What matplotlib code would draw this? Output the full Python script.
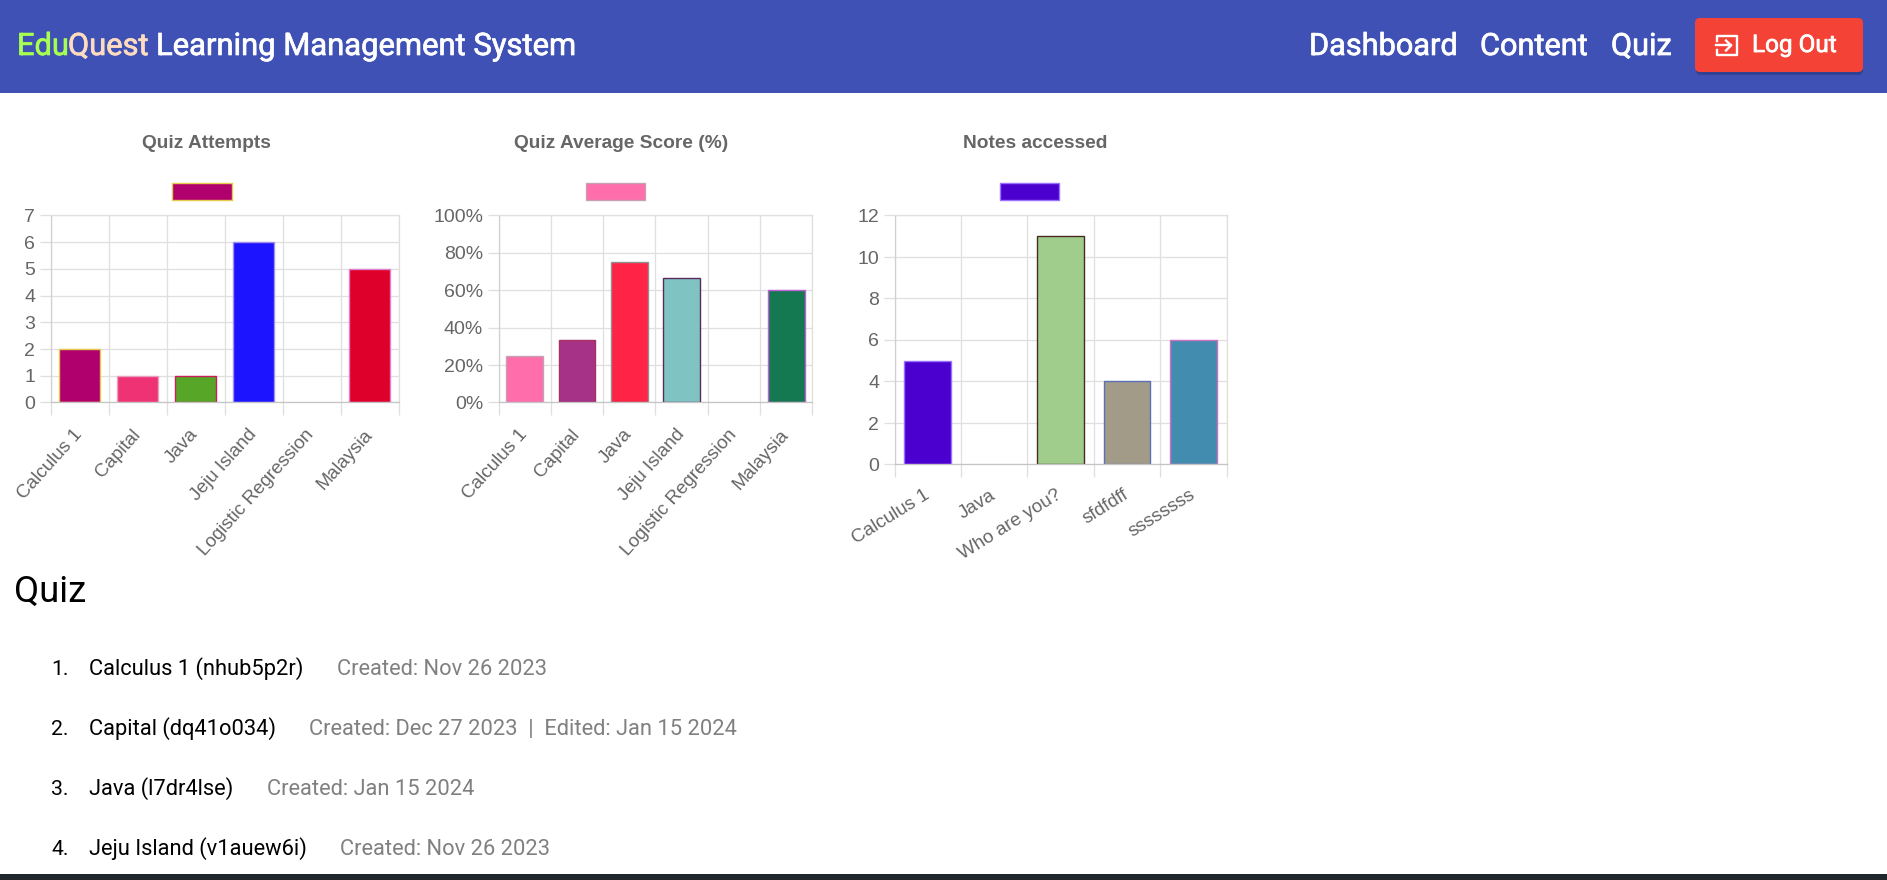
import matplotlib
matplotlib.use('Agg')
import matplotlib.pyplot as plt
import matplotlib.patheffects as pe
from matplotlib.patches import FancyBboxPatch, Patch, Rectangle

W, H = 1887, 880

# chart data
quiz_names = ['Calculus 1', 'Capital', 'Java', 'Jeju Island', 'Logistic Regression', 'Malaysia']
attempts = [2, 1, 1, 6, 0, 5]
attempts_fill = ['#b0006e', '#ee3274', '#58a628', '#1c14ff', 'none', '#de002a']
attempts_edge = ['#e6c84a', '#e8a0c0', '#c8205a', '#a090e8', 'none', '#e080d0']
attempts_ticks = [0, 1, 2, 3, 4, 5, 6, 7]
attempts_ticklabels = ['0', '1', '2', '3', '4', '5', '6', '7']

scores = [25, 33.33, 75, 66.67, 0, 60]
scores_fill = ['#ff6eaa', '#a53287', '#ff2346', '#80c3c3', 'none', '#147850']
scores_edge = ['#c8a0b4', '#a83060', '#909090', '#5a2a5a', 'none', '#c060d8']
scores_ticks = [0, 20, 40, 60, 80, 100]
scores_ticklabels = ['0%', '20%', '40%', '60%', '80%', '100%']

note_names = ['Calculus 1', 'Java', 'Who are you?', 'sfdfdff', 'ssssssss']
notes = [5, 0, 11, 4, 6]
notes_fill = ['#4b00cf', 'none', '#a0cd8c', '#a29b87', '#418caf']
notes_edge = ['#9a70ff', 'none', '#4a2a20', '#5a70b8', '#d070c0']
notes_ticks = [0, 2, 4, 6, 8, 10, 12]
notes_ticklabels = ['0', '2', '4', '6', '8', '10', '12']

# quiz list under the charts
list_names = ['Calculus 1 (nhub5p2r)', 'Capital (dq41o034)', 'Java (l7dr4lse)', 'Jeju Island (v1auew6i)']
list_dates = ['Created: Nov 26 2023', 'Created: Dec 27 2023  |  Edited: Jan 15 2024',
              'Created: Jan 15 2024', 'Created: Nov 26 2023']
list_date_x = [337, 309, 267, 340]
list_y = [675, 735, 795, 855]

fig = plt.figure(figsize=(W / 100, H / 100), dpi=100, facecolor='white')

# page layer in pixel coordinates
page = fig.add_axes([0, 0, 1, 1], zorder=0)
page.set_xlim(0, W)
page.set_ylim(H, 0)
page.axis('off')


def rf(x, y, s, size, color, medium=False):
    t = page.text(x, y, s, fontsize=size, color=color, family='Roboto', va='baseline')
    if medium:
        # Roboto resolves to regular here, thicken it a bit to look like 500
        t.set_path_effects([pe.withStroke(linewidth=0.5, foreground=color)])


page.add_patch(Rectangle((0, 0), W, 93, color='#3f51b5', lw=0))
rf(17, 55, 'Edu', 22.2, '#a8ff50', True)
rf(68, 55, 'Quest', 22.2, '#ffdcc0', True)
rf(156, 55, 'Learning Management System', 22.3, 'white', True)
rf(1309, 55, 'Dashboard', 22.1, 'white', True)
rf(1480, 55, 'Content', 22.1, 'white', True)
rf(1611, 55, 'Quiz', 22.1, 'white', True)

# log out button
page.add_patch(FancyBboxPatch((1696, 21), 167, 54, boxstyle='round,pad=0,rounding_size=5',
                              fc='#2f3c88', ec='none', alpha=0.8))
page.add_patch(FancyBboxPatch((1695, 18), 168, 54, boxstyle='round,pad=0,rounding_size=5',
                              fc='#f44336', ec='none'))
rf(1752, 52, 'Log Out', 17.5, 'white', True)
# exit icon
page.plot([1717, 1717, 1737, 1737, 1717, 1717], [41, 36, 36, 55, 55, 50], color='white', lw=1.7)
page.plot([1716, 1731], [45.5, 45.5], color='white', lw=1.7)
page.plot([1726, 1731, 1726], [40.5, 45.5, 50.5], color='white', lw=1.7)

rf(14, 602, 'Quiz', 26.3, 'black')
for i, (name, date, dx, y) in enumerate(zip(list_names, list_dates, list_date_x, list_y)):
    rf(51, y, f'{i + 1}.', 15.3, 'black')
    rf(89, y, name, 15.75, 'black')
    rf(dx, y, date, 15.75, '#808080')

# dark strip at the bottom of the screenshot
page.add_patch(Rectangle((0, 874), W, 6, color='#22272b', lw=0))


def bar_chart(box, title, title_x, swatch_x, names, values, fill, edge, ticks, ticklabels, rot):
    left, top, right, bottom = box
    ax = fig.add_axes([left / W, 1 - bottom / H, (right - left) / W, (bottom - top) / H], zorder=2)
    ax.patch.set_alpha(0)
    ax.set_axisbelow(True)
    n = len(names)
    ax.bar(range(n), values, width=0.7, color=fill, edgecolor=edge, linewidth=1)
    ax.set_xlim(-0.5, n - 0.5)
    ax.set_ylim(ticks[0], ticks[-1])
    ax.set_yticks(ticks)
    ax.set_yticklabels(ticklabels, family='Liberation Sans', fontsize=14, color='#666666')
    ax.set_xticks([i - 0.5 for i in range(n + 1)])
    ax.set_xticklabels([])
    ax.set_xticks(range(n), minor=True)
    ax.set_xticklabels(names, minor=True, rotation=rot, ha='right', va='center',
                       rotation_mode='anchor', family='Liberation Sans', fontsize=13.6, color='#666666')
    ax.tick_params(axis='x', which='major', length=9, width=0.9, color='#dfdfdf')
    ax.tick_params(axis='x', which='minor', length=0, pad=21)
    ax.tick_params(axis='y', length=8, width=0.9, color='#dfdfdf', pad=3)
    ax.grid(True, which='major', color='#dfdfdf', lw=0.9)
    for side in ax.spines:
        ax.spines[side].set_color('#dfdfdf')
        ax.spines[side].set_linewidth(0.9)
    ax.spines['left'].set_color('#d0d0d0')
    ax.spines['bottom'].set_color('#c4c4c4')
    fig.text(title_x / W, 1 - 143 / H, title, family='Liberation Sans', fontweight='bold',
             fontsize=13.8, color='#666666', ha='center', va='center')
    ax.legend(handles=[Patch(facecolor=fill[0], edgecolor=edge[0], linewidth=1)], labels=[''],
              loc='center', bbox_to_anchor=(swatch_x / W, 1 - 191.5 / H), bbox_transform=fig.transFigure,
              frameon=False, fontsize=10, handlelength=4.3, handleheight=1.42,
              handletextpad=0, borderpad=0, borderaxespad=0)


bar_chart((50.5, 215.5, 398.5, 402.5), 'Quiz Attempts', 206.5, 202, quiz_names, attempts,
          attempts_fill, attempts_edge, attempts_ticks, attempts_ticklabels, 48)
bar_chart((498.5, 215.5, 812.5, 402.5), 'Quiz Average Score (%)', 621, 615.5, quiz_names, scores,
          scores_fill, scores_edge, scores_ticks, scores_ticklabels, 48)
bar_chart((894.5, 215.5, 1226.5, 464.5), 'Notes accessed', 1035, 1029.5, note_names, notes,
          notes_fill, notes_edge, notes_ticks, notes_ticklabels, 32)

fig.savefig('out.png', dpi=100)
